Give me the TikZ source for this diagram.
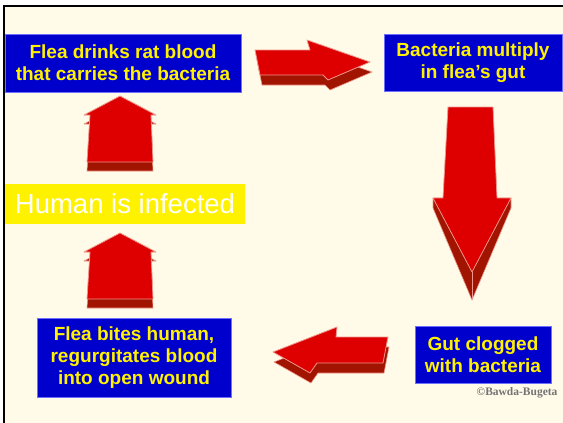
\documentclass[tikz,border=0pt]{standalone}
\usepackage{fontspec}
\setmainfont{Liberation Sans}
\newfontfamily\creditfont{Liberation Serif}
\usepackage{xcolor}
\usepackage{tikz}
\usetikzlibrary{positioning}

\definecolor{paper}{RGB}{255,251,232}
\definecolor{boxBlue}{RGB}{0,0,204}
\definecolor{boxEdge}{RGB}{110,110,255}
\definecolor{faceRed}{RGB}{222,0,0}
\definecolor{sideRed}{RGB}{160,20,0}
\definecolor{edgePink}{RGB}{240,150,140}

\begin{document}
\begin{tikzpicture}[
  x=1pt,
  y=-1pt,
  stageBox/.style={fill=boxBlue, draw=boxEdge, line width=1pt, text=yellow,
    font=\fontsize{19}{22}\selectfont\bfseries, align=center, inner sep=0pt},
  alertBox/.style={fill=yellow, text=white, font=\fontsize{27.5}{30}\selectfont,
    inner sep=0pt},
  arrowFace/.style={fill=faceRed, draw=edgePink, line width=0.8pt, line join=round},
  arrowSide/.style={fill=sideRed, draw=edgePink, line width=0.6pt, line join=round},
  creditlabel/.style={font=\fontsize{11.5}{12}\creditfont\bfseries, text=black!55}
]
\useasboundingbox (0,0) rectangle (563,423);
\path[fill=white] (0,0) rectangle (563,423);
\path[fill=paper] (4,6) rectangle (563,423);
\draw[line width=2pt] (4,423) -- (4,6) -- (563,6);

% stages of the cycle
\node[stageBox, minimum width=236, minimum height=58] (drinks) at (123,63)
  {Flea drinks rat blood\\that carries the bacteria};
\node[stageBox, minimum width=178, minimum height=57] (multiply) at (473,62.5)
  {Bacteria multiply\\in flea's gut};
\node[stageBox, minimum width=136, minimum height=57] (clogged) at (483,354.5)
  {Gut clogged\\with bacteria};
\node[stageBox, minimum width=194, minimum height=79] (bites) at (134,357.5)
  {Flea bites human,\\regurgitates blood\\into open wound};
\node[alertBox, minimum width=240, minimum height=40] (human) at (125,204)
  {Human is infected};
\node[creditlabel, anchor=east] (credit) at (561,393) {©Bawda-Bugeta};

% right arrow, drinks -> multiply
\draw[arrowSide, shift={(2,10)}] (255,50) -- (310,50) -- (307,40) -- (370,62)
  -- (328,80) -- (323,75) -- (260,75) -- cycle;
\draw[arrowFace] (255,50) -- (310,50) -- (307,40) -- (370,62)
  -- (328,80) -- (323,75) -- (260,75) -- cycle;

% down arrow, multiply -> clogged
\draw[arrowSide] (433,198) -- (511,198) -- (511,208) -- (472,300) -- (433,208) -- cycle;
\draw[edgePink, line width=0.8pt] (472,272) -- (472,300);
\draw[arrowFace] (448,107) -- (493,107) -- (497,198) -- (511,198) -- (472,272)
  -- (433,198) -- (443,198) -- cycle;

% left arrow, clogged -> bites
\draw[arrowSide, shift={(1,10)}] (273,352) -- (337,327) -- (336,337) -- (388,337)
  -- (383,363) -- (317,363) -- (310,373) -- cycle;
\draw[arrowFace] (273,352) -- (337,327) -- (336,337) -- (388,337)
  -- (383,363) -- (317,363) -- (310,373) -- cycle;

% up arrows, bites -> human -> drinks
\foreach \tipy/\len in {233/47, 96/47} {
  \draw[arrowSide, shift={(0,9)}] (120,\tipy) -- (156,\tipy+19) -- (151,\tipy+19)
    -- (153,\tipy+19+\len) -- (87,\tipy+19+\len) -- (90,\tipy+19) -- (84,\tipy+19) -- cycle;
  \draw[arrowFace] (120,\tipy) -- (156,\tipy+19) -- (151,\tipy+19)
    -- (153,\tipy+19+\len) -- (87,\tipy+19+\len) -- (90,\tipy+19) -- (84,\tipy+19) -- cycle;
}
\end{tikzpicture}
\end{document}
